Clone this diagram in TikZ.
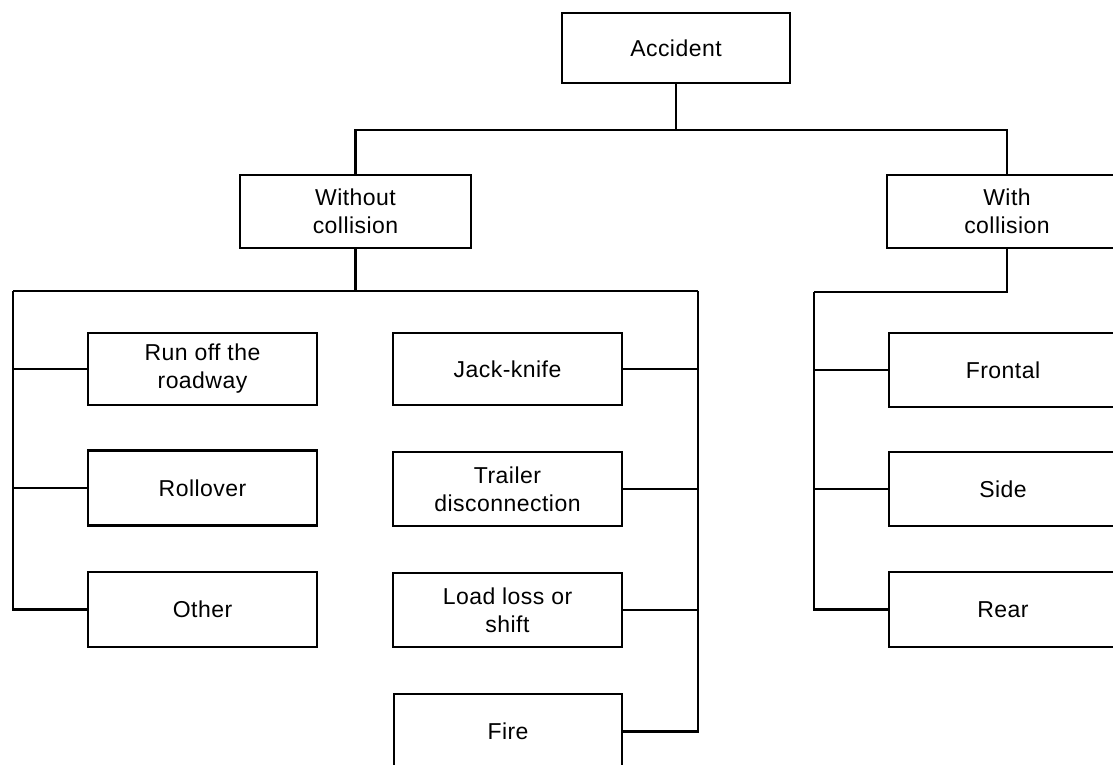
\documentclass[tikz,border=0pt]{standalone}
\usepackage{fontspec}
\setmainfont{Liberation Sans}[LetterSpace=2]
\begin{document}
\begin{tikzpicture}[x=1pt,y=-1pt,
  box/.style={draw,line width=2.2pt,rectangle,inner sep=0pt,align=center,
    font=\fontsize{23}{28}\selectfont},
  conn/.style={line width=2.2pt}]
\useasboundingbox (0,0) rectangle (1113,764);
\clip (0,0) rectangle (1113,764);
\fill[white] (0,0) rectangle (1113,764);
% boxes
\node[box,minimum width=228pt,minimum height=70pt] (acc) at (676,48) {Accident};
\node[box,minimum width=231pt,minimum height=73pt] (wo) at (355.5,211.5) {Without\\collision};
\node[box,minimum width=240pt,minimum height=73pt] (wi) at (1007,211.5) {With\\collision};
\node[box,minimum width=229pt,minimum height=72pt] (run) at (202.5,369) {Run off the\\roadway};
\node[box,minimum width=229pt,minimum height=75pt] (roll) at (202.5,488) {Rollover};
\node[box,minimum width=229pt,minimum height=75pt] (oth) at (202.5,609.5) {Other};
\node[box,minimum width=229pt,minimum height=72pt] (jack) at (507.5,369) {Jack-knife};
\node[box,minimum width=229pt,minimum height=74pt] (trail) at (507.5,489) {Trailer\\disconnection};
\node[box,minimum width=229pt,minimum height=74pt] (load) at (507.5,610) {Load loss or\\shift};
\node[box,minimum width=228pt,minimum height=75pt] (fire) at (508,731.5) {Fire};
\node[box,minimum width=228pt,minimum height=74pt] (front) at (1003,370) {Frontal};
\node[box,minimum width=228pt,minimum height=74pt] (side) at (1003,489) {Side};
\node[box,minimum width=228pt,minimum height=75pt] (rear) at (1003,609.5) {Rear};
% bus coordinates
\coordinate (T) at (678,130);
\coordinate (L) at (13,291);
\coordinate (R) at (698,291);
\coordinate (W) at (814,292);
% top level
\draw[conn] (acc.south) -- (acc.south |- T) -| (wo.north);
\draw[conn] (acc.south |- T) -| (wi.north);
% without collision
\draw[conn] (wo.south) -- (wo.south |- L);
\draw[conn] (L) -- (R);
\draw[conn] (L) |- (oth.west);
\draw[conn] (run.west) -- (run.west -| L);
\draw[conn] (roll.west) -- (roll.west -| L);
\draw[conn] (R) |- (fire.east);
\draw[conn] (jack.east) -- (jack.east -| R);
\draw[conn] (trail.east) -- (trail.east -| R);
\draw[conn] (load.east) -- (load.east -| R);
% with collision
\draw[conn] (wi.south) |- (W);
\draw[conn] (W) |- (rear.west);
\draw[conn] (front.west) -- (front.west -| W);
\draw[conn] (side.west) -- (side.west -| W);
\end{tikzpicture}
\end{document}
